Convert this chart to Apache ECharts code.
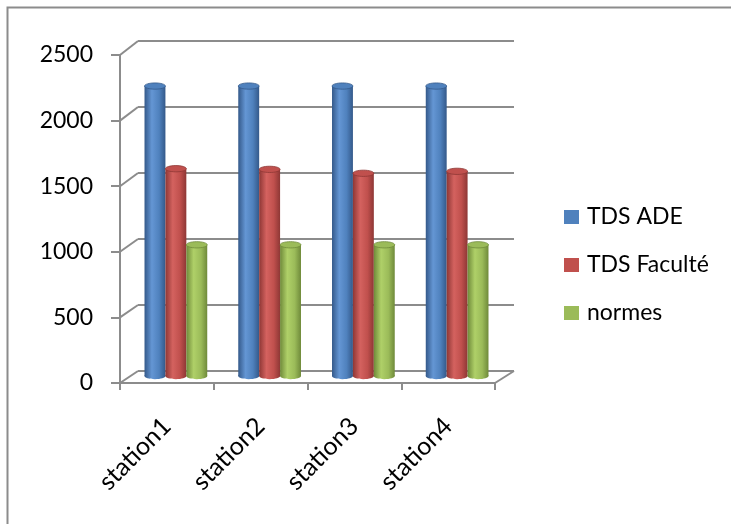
<!DOCTYPE html>
<html>
<head>
<meta charset="utf-8">
<title>TDS par station</title>
<script src="https://cdn.jsdelivr.net/npm/echarts@6/dist/echarts.min.js"></script>
<style>
  html, body { margin: 0; padding: 0; background: #fff; }
  #chart { width: 731px; height: 524px; }
</style>
</head>
<body>
<div id="chart"></div>
<script>
// Categories, series and axis ticks
const stations = ['station1', 'station2', 'station3', 'station4'];
const seriesNames = ['TDS ADE', 'TDS Faculté', 'normes'];
const tdsAde = [2210, 2210, 2210, 2210];
const tdsFaculte = [1580, 1575, 1545, 1560];
const normes = [1000, 1000, 1000, 1000];
const yTicks = [0, 500, 1000, 1500, 2000, 2500];

// Palette: [base, light, dark] for each cylinder
const palette = [
  ['#4F81BD', '#6496d4', '#34598a'],
  ['#C0504D', '#d4625f', '#8e3735'],
  ['#9BBB59', '#afd068', '#6f8a3a']
];
const GRID_LINE = '#8c8c8c';
const FONT = 'Lato';
const BAR_RATIO = 0.223;

const chart = echarts.init(document.getElementById('chart'));

// Draws one series as a shaded cylinder standing on the floor
function cylinder(sIdx) {
  const [base, light, dark] = palette[sIdx];
  return function (params, api) {
    const cat = api.value(0);
    const val = api.value(1);
    const top = api.coord([cat, val]);
    const bottom = api.coord([cat, 0]);
    const band = api.size([1, 0])[0];
    const w = band * BAR_RATIO;
    const cx = top[0] + (sIdx - 1) * w;
    const x = cx - w / 2;
    const ry = w * 0.15;
    const body = new echarts.graphic.LinearGradient(0, 0, 1, 0, [
      { offset: 0, color: dark },
      { offset: 0.35, color: light },
      { offset: 0.7, color: base },
      { offset: 1, color: dark }
    ]);
    return {
      type: 'group',
      children: [
        { type: 'ellipse', shape: { cx: cx, cy: bottom[1], rx: w / 2, ry: ry }, style: { fill: body } },
        { type: 'rect', shape: { x: x, y: top[1], width: w, height: bottom[1] - top[1] }, style: { fill: body } },
        { type: 'ellipse', shape: { cx: cx, cy: top[1], rx: w / 2, ry: ry },
          style: { fill: base, stroke: dark, lineWidth: 0.8 } }
      ]
    };
  };
}

const valuesList = [tdsAde, tdsFaculte, normes];

const option = {
  animation: false,
  color: palette.map(p => p[0]),
  textStyle: { fontFamily: FONT },
  grid: [
    // front edge: value axis, floor front edge, category labels
    { left: 120, right: 236, top: 55, bottom: 141 },
    // back wall: gridlines
    { left: 138, right: 217, top: 41, bottom: 153 },
    // mid depth: cylinders
    { left: 129, right: 227, top: 48, bottom: 148 }
  ],
  xAxis: [
    { gridIndex: 0, type: 'category', data: stations,
      axisLine: { show: true, lineStyle: { color: GRID_LINE, width: 2 } },
      axisTick: { show: true, length: 7, lineStyle: { color: GRID_LINE, width: 2 } },
      axisLabel: { rotate: 45, margin: 39, fontSize: 25, color: '#000', fontFamily: FONT },
      splitLine: { show: false } },
    { gridIndex: 1, type: 'category', data: stations, show: false },
    { gridIndex: 2, type: 'category', data: stations, show: false }
  ],
  yAxis: [
    { gridIndex: 0, type: 'value', min: 0, max: 2500, interval: 500,
      axisLine: { show: true, lineStyle: { color: GRID_LINE, width: 2 } },
      axisTick: { show: true, length: 9, lineStyle: { color: GRID_LINE, width: 2 } },
      axisLabel: { margin: 27, fontSize: 23, color: '#000', fontFamily: FONT,
        formatter: v => String(v) },
      splitLine: { show: false } },
    { gridIndex: 1, type: 'value', min: 0, max: 2500, interval: 500,
      axisLine: { show: false }, axisTick: { show: false }, axisLabel: { show: false },
      splitLine: { show: true, lineStyle: { color: GRID_LINE, width: 2 } } },
    { gridIndex: 2, type: 'value', min: 0, max: 2500, interval: 500, show: false }
  ],
  legend: {
    orient: 'vertical',
    left: 564,
    top: 205,
    padding: 0,
    icon: 'rect',
    itemWidth: 15,
    itemHeight: 14,
    itemGap: 24,
    data: seriesNames,
    textStyle: { fontSize: 23, color: '#000', fontFamily: FONT, lineHeight: 24, padding: [0, 0, 0, 3] }
  },
  series: seriesNames.map((name, s) => ({
    name: name,
    type: 'custom',
    xAxisIndex: 2,
    yAxisIndex: 2,
    itemStyle: { color: palette[s][0] },
    renderItem: cylinder(s),
    encode: { x: 0, y: 1 },
    data: valuesList[s].map((v, i) => [i, v])
  }))
};

chart.setOption(option);

// Depth edges joining the front axis to the back wall, from both grids' scales
function edgeX(gridIndex, side) {
  const c0 = chart.convertToPixel({ gridIndex: gridIndex }, [0, 0]);
  const c1 = chart.convertToPixel({ gridIndex: gridIndex }, [1, 0]);
  const band = c1[0] - c0[0];
  if (side === 'left') return c0[0] - band / 2;
  const cn = chart.convertToPixel({ gridIndex: gridIndex }, [stations.length - 1, 0]);
  return cn[0] + band / 2;
}
const lines = [];
const fl = edgeX(0, 'left'), bl = edgeX(1, 'left');
yTicks.forEach(v => {
  const f = chart.convertToPixel({ gridIndex: 0 }, [0, v]);
  const b = chart.convertToPixel({ gridIndex: 1 }, [0, v]);
  lines.push([fl, f[1], bl, b[1]]);
});
const fr = edgeX(0, 'right'), br = edgeX(1, 'right');
const f0 = chart.convertToPixel({ gridIndex: 0 }, [0, 0]);
const b0 = chart.convertToPixel({ gridIndex: 1 }, [0, 0]);
lines.push([fr, f0[1], br, b0[1]]);

chart.setOption({
  graphic: [
    { type: 'rect', left: 5, top: 5, shape: { x: 0, y: 0, width: 800, height: 600 },
      style: { fill: 'none', stroke: GRID_LINE, lineWidth: 2 }, silent: true, z: 0 }
  ].concat(lines.map(l => ({
    type: 'line', shape: { x1: l[0], y1: l[1], x2: l[2], y2: l[3] },
    style: { stroke: GRID_LINE, lineWidth: 2 }, silent: true, z: 1
  })))
});
</script>
</body>
</html>
